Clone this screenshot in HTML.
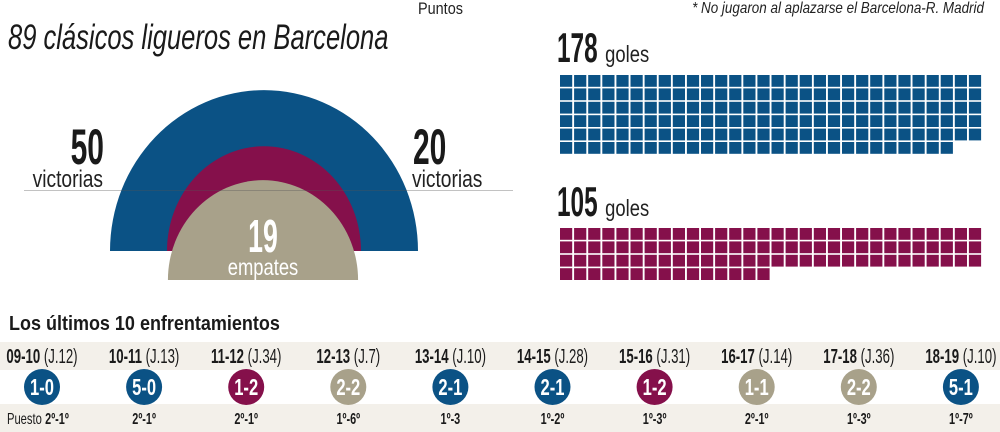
<!DOCTYPE html>
<html><head><meta charset="utf-8"><style>
html,body{margin:0;padding:0;background:#fff;}
svg{display:block;font-family:"Liberation Sans",sans-serif;}
</style></head><body>
<svg id="c" width="1000" height="432" viewBox="0 0 1000 432">
<rect x="0" y="342" width="1000" height="28" fill="#f3f0ea"/>
<rect x="0" y="404" width="1000" height="28" fill="#f3f0ea"/>
<text x="418" y="14" font-size="17" transform="translate(418 0) scale(0.85 1) translate(-418 0)" fill="#222">Puntos</text>
<text x="984" y="13" font-size="16" font-style="italic" text-anchor="end" transform="translate(984 0) scale(0.84 1) translate(-984 0)" fill="#222">* No jugaron al aplazarse el Barcelona-R. Madrid</text>
<text x="8" y="49" font-size="35" font-style="italic" transform="translate(8 0) scale(0.73 1) translate(-8 0)" fill="#1a1a1a">89 clásicos ligueros en Barcelona</text>
<g id="arcs"></g>
<g id="waffle"></g>
<text x="9" y="330" font-size="20" font-weight="bold" transform="translate(9 0) scale(0.9 1) translate(-9 0)" fill="#1a1a1a">Los últimos 10 enfrentamientos</text>
<g id="matches"></g>
</svg>
<script>
const outcomes=["Barcelona","R. Madrid","Empates"];
const outcomeValues=[50,20,19];
const goalTeams=["Barcelona","R. Madrid"];
const goalValues=[178,105];
const seasons=["09-10","10-11","11-12","12-13","13-14","14-15","15-16","16-17","17-18","18-19"];
const jornadas=["J.12","J.13","J.34","J.7","J.10","J.28","J.31","J.14","J.36","J.10"];
const scores=["1-0","5-0","1-2","2-2","2-1","2-1","1-2","1-1","2-2","5-1"];
const results=["W","W","L","D","W","W","L","D","D","W"];
const puestos=["2º-1º","2º-1º","2º-1º","1º-6º","1º-3","1º-2º","1º-3º","2º-1º","1º-3º","1º-7º"];

const NS="http://www.w3.org/2000/svg";
const BLUE="#0b5285",PURP="#85104b",GRAY="#a8a18a";
function mk(tag,attrs,parent){const e=document.createElementNS(NS,tag);for(const k in attrs)e.setAttribute(k,attrs[k]);parent.appendChild(e);return e;}
function half(cx,by,rx,ry){return `M${cx-rx},${by} A${rx},${ry} 0 0 1 ${cx+rx},${by} Z`;}

const arcs=document.getElementById('arcs');
const rScale=v=>Math.sqrt(v/50)*154;
const cx=264;
let e;
e=mk('path',{d:half(cx,251,rScale(outcomeValues[0]),rScale(outcomeValues[0])*1.045),fill:BLUE},arcs);


const rP=rScale(outcomeValues[0])*0.63*Math.sqrt(outcomeValues[1]/20);
e=mk('path',{d:half(cx,251,rP,rP*1.08),fill:PURP},arcs);


const rG=rP*0.98*Math.sqrt(outcomeValues[2]/19);
e=mk('path',{d:half(cx-1,280,rG,rG*1.05),fill:GRAY},arcs);


e=mk('line',{x1:24,y1:190.5,x2:513,y2:190.5,stroke:"#555","stroke-width":0.6,opacity:0.7},arcs);


function txt(p,x,y,s,str,opt){const t=mk('text',Object.assign({x:x,y:y,'font-size':s},opt||{}),p);t.textContent=str;return t;}
function narrow(t,x,f){t.setAttribute('transform',`translate(${x} 0) scale(${f} 1) translate(${-x} 0)`);}
e=txt(arcs,104,164,50,String(outcomeValues[0]),{'font-weight':'bold','text-anchor':'end',fill:'#1a1a1a'});narrow(e,104,0.6);


e=txt(arcs,103,187,24,"victorias",{'text-anchor':'end',fill:'#222'});narrow(e,103,0.8);


e=txt(arcs,413,164,50,String(outcomeValues[1]),{'font-weight':'bold',fill:'#1a1a1a'});narrow(e,413,0.6);


e=txt(arcs,412,187,24,"victorias",{fill:'#222'});narrow(e,412,0.8);


e=txt(arcs,263,252,46,String(outcomeValues[2]),{'font-weight':'bold','text-anchor':'middle',fill:'#fff'});narrow(e,263,0.58);


e=txt(arcs,263,275,23,"empates",{'text-anchor':'middle',fill:'#fff'});narrow(e,263,0.8);



const wf=document.getElementById('waffle');
const cols=30,pitch=14.1,cell=12.2,x0=560;
const tops=[75,228],labelY=[62,216],colors=[BLUE,PURP];
goalValues.forEach((v,gi)=>{
  let t=txt(wf,557,labelY[gi],42,String(v),{'font-weight':'bold',fill:'#1a1a1a'});narrow(t,557,0.58);
  
  
  const w=String(v).length*42*0.58*0.55+2;
  t=txt(wf,557+w+6,labelY[gi],23,"goles",{fill:'#222'});narrow(t,557+w+6,0.8);
  
  
  for(let i=0;i<v;i++){
    const r=Math.floor(i/cols),c=i%cols;
    const sq=mk('rect',{x:x0+c*pitch,y:tops[gi]+r*13.4,width:cell,height:11.8,fill:colors[gi]},wf);
    
    
  }
});

const m=document.getElementById('matches');
const col={W:BLUE,L:PURP,D:GRAY};
seasons.forEach((s,i)=>{
  const x=42+i*102.1;
  const g=mk('g',{},m);
  
  
  let t=mk('text',{x:x,y:363,'font-size':20,'text-anchor':'middle',fill:'#1a1a1a'},g);
  const b=document.createElementNS(NS,'tspan');b.setAttribute('font-weight','bold');b.textContent=s+" ";t.appendChild(b);
  const j=document.createElementNS(NS,'tspan');j.textContent="("+jornadas[i]+")";t.appendChild(j);
  narrow(t,x,0.66);
  
  
  const c=mk('circle',{cx:x,cy:387,r:18,fill:col[results[i]]},g);
  
  
  t=txt(g,x,395,23,scores[i],{'font-weight':'bold','text-anchor':'middle',fill:'#fff'});narrow(t,x,0.72);
  
  
  t=txt(g,x+(i==0?15:0),424,16,puestos[i],{'font-weight':'bold','text-anchor':'middle',fill:'#1a1a1a'});narrow(t,x+(i==0?15:0),0.68);
  
  
});
let pt=txt(m,7,424,16,"Puesto",{fill:'#1a1a1a'});narrow(pt,7,0.7);


</script>
</body></html>
